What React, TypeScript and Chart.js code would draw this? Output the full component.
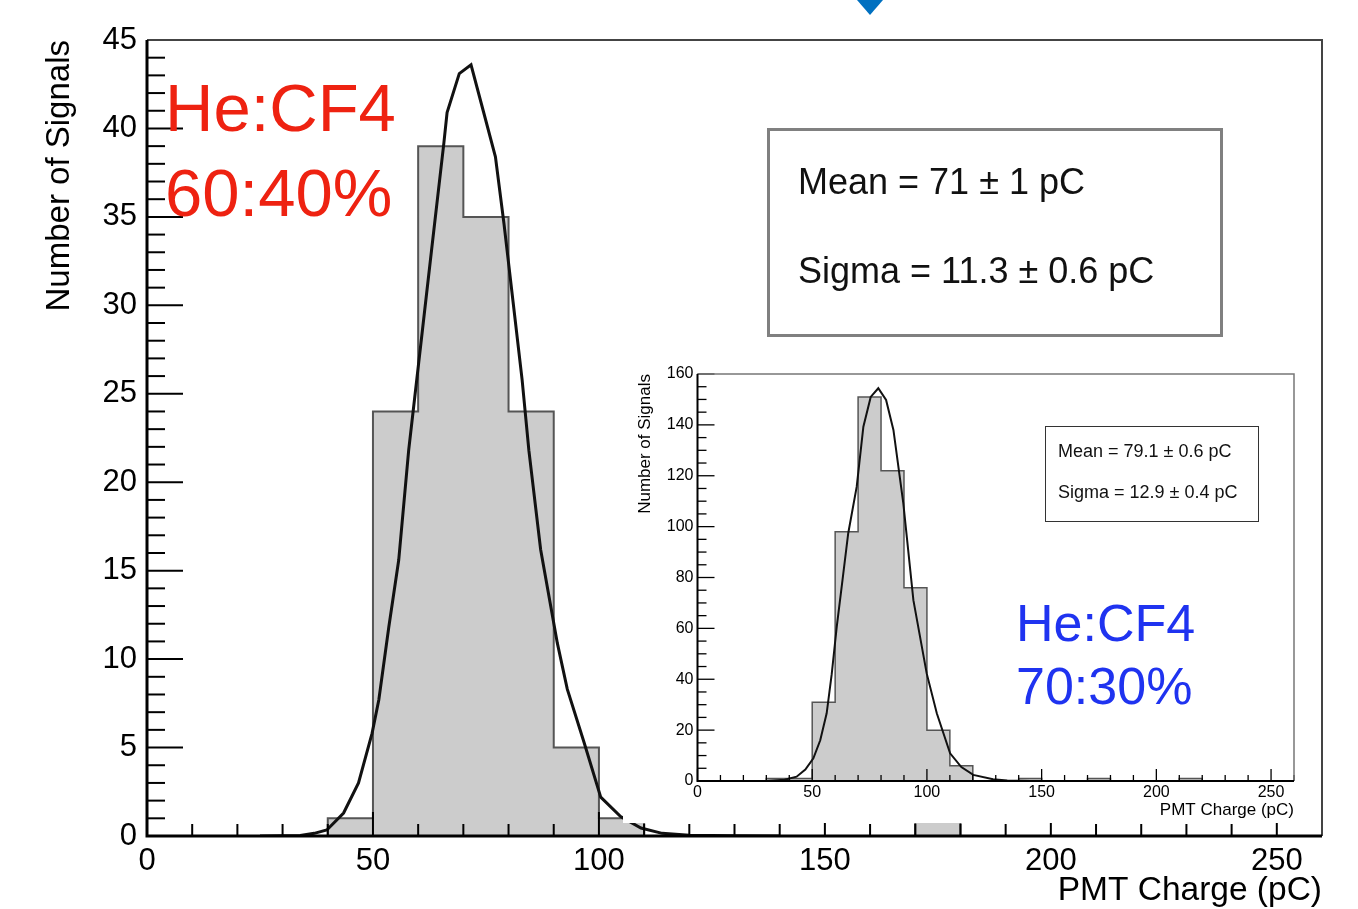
import React, { useEffect, useRef } from "react";
import { Chart, registerables } from "chart.js";
Chart.register(...registerables);

const FONT = "'Liberation Sans', Arial, Helvetica, sans-serif";

// ---- data ----
const binWidth = 10;
// main histogram (He:CF4 60:40%), bins of 10 pC from 0 to 260
const mainCounts = [0, 0, 0, 0, 1, 24, 39, 35, 24, 5, 1, 0, 0, 0, 0, 0, 0, 1, 0, 0, 0, 0, 0, 0, 0, 0];
// inset histogram (He:CF4 70:30%)
const insetCounts = [0, 0, 0, 1, 1, 31, 98, 151, 122, 76, 20, 6, 0, 0, 1, 0, 0, 1, 0, 0, 0, 1, 0, 0, 0, 0];

// fitted curves
const mainFitX = [25, 33.9, 37, 39.8, 43.5, 46.8, 49.8, 51.3, 53.5, 55.7, 57.9, 60.5, 63, 65.7, 66.4, 69.1, 71.7, 74.4, 77.1, 79, 81, 83, 84.5, 87.1, 90.8, 93, 96.7, 100.4, 104.8, 109.3, 114, 120, 130, 140];
const mainFitY = [0, 0.03, 0.15, 0.34, 1.3, 3.0, 5.8, 7.7, 11.8, 15.6, 21.8, 27.6, 33.2, 39.2, 40.9, 43.1, 43.6, 41.0, 38.4, 34.6, 30.2, 25.8, 21.8, 16.2, 10.9, 8.3, 5.3, 2.2, 1.1, 0.45, 0.15, 0.04, 0.01, 0];
const insetFitX = [30, 38, 43.2, 47, 50.5, 53.5, 56.3, 58.5, 60.7, 63.2, 65.7, 69.4, 72.3, 75.5, 78.8, 82.2, 85.4, 89.7, 94.1, 99.9, 104.3, 110.1, 115, 120.2, 128.8, 135, 145];
const insetFitY = [0, 0.5, 1.7, 4.5, 8.9, 16, 26.6, 42, 60.7, 79, 97.4, 115.7, 139.3, 151, 154.4, 149.8, 138, 109.2, 71.1, 42.3, 26.6, 10.9, 5.5, 2.4, 0.7, 0.2, 0];

const mainXTicks = [0, 50, 100, 150, 200, 250];
const mainYTicks = [0, 5, 10, 15, 20, 25, 30, 35, 40, 45];
const insetXTicks = [0, 50, 100, 150, 200, 250];
const insetYTicks = [0, 20, 40, 60, 80, 100, 120, 140, 160];

function histPoints(counts: number[]) {
  const pts = counts.map((c, i) => ({ x: i * binWidth, y: c }));
  pts.push({ x: counts.length * binWidth, y: counts[counts.length - 1] });
  return pts;
}
function fitPoints(xs: number[], ys: number[]) {
  return xs.map((x, i) => ({ x, y: ys[i] }));
}

const rootAxes = {
  id: "rootAxes",
  afterDatasetsDraw(chart: any, _args: any, o: any) {
    const { ctx, chartArea: a, scales } = chart;
    const xs = scales.x;
    const ys = scales.y;
    ctx.save();
    ctx.strokeStyle = "#000";
    ctx.lineWidth = o.tickWidth;
    const n = Math.round((xs.max - xs.min) / o.xMinor);
    for (let i = 0; i <= n; i++) {
      const v = xs.min + i * o.xMinor;
      const major = Math.abs(v / o.xMajor - Math.round(v / o.xMajor)) < 1e-6;
      const len = major ? o.xMajorLen : o.xMinorLen;
      const px = xs.getPixelForValue(v);
      ctx.beginPath();
      ctx.moveTo(px, a.bottom);
      ctx.lineTo(px, a.bottom - len);
      ctx.stroke();
    }
    const m = Math.round((ys.max - ys.min) / o.yMinor);
    for (let i = 0; i <= m; i++) {
      const v = ys.min + i * o.yMinor;
      const major = Math.abs(v / o.yMajor - Math.round(v / o.yMajor)) < 1e-6;
      const len = major ? o.yMajorLen : o.yMinorLen;
      const py = ys.getPixelForValue(v);
      ctx.beginPath();
      ctx.moveTo(a.left, py);
      ctx.lineTo(a.left + len, py);
      ctx.stroke();
    }
    // frame (top/right)
    ctx.strokeStyle = o.frameColor;
    ctx.lineWidth = o.frameWidth;
    ctx.beginPath();
    ctx.moveTo(a.left, a.top);
    ctx.lineTo(a.right, a.top);
    ctx.lineTo(a.right, a.bottom);
    ctx.stroke();
    // axes (left/bottom)
    ctx.strokeStyle = "#000";
    ctx.lineWidth = o.axisWidth;
    ctx.beginPath();
    ctx.moveTo(a.left, a.top);
    ctx.lineTo(a.left, a.bottom);
    ctx.lineTo(a.right, a.bottom);
    ctx.stroke();
    ctx.restore();
  },
};

function makeConfig(p: any) {
  return {
    type: "line",
    data: {
      datasets: [
        {
          data: fitPoints(p.fitX, p.fitY),
          borderColor: "#111",
          borderWidth: p.curveWidth,
          pointRadius: 0,
          tension: 0,
          fill: false,
        },
        {
          data: histPoints(p.counts),
          stepped: true,
          borderColor: "#555",
          borderWidth: p.histWidth,
          backgroundColor: "#cccccc",
          fill: "origin",
          pointRadius: 0,
        },
      ],
    },
    options: {
      responsive: false,
      animation: false,
      devicePixelRatio: 1,
      layout: { padding: p.padding },
      plugins: {
        legend: { display: false },
        tooltip: { enabled: false },
        rootAxes: p.axes,
      },
      scales: {
        x: {
          type: "linear",
          min: 0,
          max: 260,
          afterBuildTicks: (s: any) => {
            s.ticks = p.xTicks.map((v: number) => ({ value: v }));
          },
          afterFit: (s: any) => {
            s.height = p.xHeight;
          },
          grid: { display: false, drawTicks: false },
          border: { display: false },
          ticks: {
            color: "#000",
            font: { family: FONT, size: p.tickSize },
            padding: p.xTickPad,
            maxRotation: 0,
            autoSkip: false,
          },
          title: {
            display: true,
            text: "PMT Charge (pC)",
            align: "end",
            color: "#000",
            font: { family: FONT, size: p.xTitleSize, lineHeight: 1.1 },
            padding: { top: 0, bottom: p.xTitlePad },
          },
        },
        y: {
          type: "linear",
          min: 0,
          max: p.yMax,
          afterBuildTicks: (s: any) => {
            s.ticks = p.yTicks.map((v: number) => ({ value: v }));
          },
          afterFit: (s: any) => {
            s.width = p.yWidth;
          },
          grid: { display: false, drawTicks: false },
          border: { display: false },
          ticks: {
            color: "#000",
            font: { family: FONT, size: p.tickSize },
            padding: p.yTickPad,
            autoSkip: false,
          },
          title: {
            display: true,
            text: "Number of Signals",
            align: "end",
            color: "#000",
            font: { family: FONT, size: p.yTitleSize, lineHeight: 1.2 },
            padding: { top: p.yTitlePad, bottom: 0 },
          },
        },
      },
    },
    plugins: [rootAxes],
  };
}

export default function App() {
  const mainRef = useRef<HTMLCanvasElement>(null);
  const insetRef = useRef<HTMLCanvasElement>(null);

  useEffect(() => {
    document.body.style.margin = "0";
    document.body.style.overflow = "hidden";
    const main = new Chart(
      mainRef.current as any,
      makeConfig({
        counts: mainCounts,
        fitX: mainFitX,
        fitY: mainFitY,
        xTicks: mainXTicks,
        yTicks: mainYTicks,
        yMax: 45,
        padding: { top: 40, right: 36, left: 0, bottom: 0 },
        xHeight: 73,
        yWidth: 147,
        tickSize: 31,
        xTitleSize: 33.5,
        yTitleSize: 33,
        xTickPad: 7,
        yTickPad: 10,
        xTitlePad: 0,
        yTitlePad: 40,
        curveWidth: 3,
        histWidth: 2,
        axes: {
          xMajor: 50, xMinor: 10, xMajorLen: 24, xMinorLen: 12,
          yMajor: 5, yMinor: 1, yMajorLen: 36, yMinorLen: 18,
          tickWidth: 2, axisWidth: 3, frameColor: "#444", frameWidth: 2,
        },
      }) as any
    );
    const inset = new Chart(
      insetRef.current as any,
      makeConfig({
        counts: insetCounts,
        fitX: insetFitX,
        fitY: insetFitY,
        xTicks: insetXTicks,
        yTicks: insetYTicks,
        yMax: 160,
        padding: { top: 19, right: 9, left: 0, bottom: 0 },
        xHeight: 42,
        yWidth: 74.5,
        tickSize: 16,
        xTitleSize: 17,
        yTitleSize: 17,
        xTickPad: 2,
        yTickPad: 4,
        xTitlePad: 3,
        yTitlePad: 12,
        curveWidth: 2,
        histWidth: 1.5,
        axes: {
          xMajor: 50, xMinor: 10, xMajorLen: 12, xMinorLen: 6,
          yMajor: 20, yMinor: 5, yMajorLen: 17, yMinorLen: 9,
          tickWidth: 1.3, axisWidth: 2, frameColor: "#777", frameWidth: 1.5,
        },
      }) as any
    );
    return () => {
      main.destroy();
      inset.destroy();
    };
  }, []);

  const abs = (s: React.CSSProperties): React.CSSProperties => ({ position: "absolute", ...s });

  return (
    <div style={{ position: "absolute", left: 0, top: 0, width: 1358, height: 909, background: "#fff", overflow: "hidden", fontFamily: FONT }}>
      <canvas ref={mainRef} width={1358} height={909} style={abs({ left: 0, top: 0 })} />
      <canvas ref={insetRef} width={680} height={468} style={abs({ left: 623, top: 355, background: "#fff" })} />

      {/* blue marker at the top */}
      <div style={abs({ left: 857, top: 0, width: 0, height: 0, borderLeft: "13px solid transparent", borderRight: "13px solid transparent", borderTop: "15px solid #0070c0" })} />

      {/* red label */}
      <div style={abs({ left: 165, top: 65, fontSize: 67, lineHeight: "85px", color: "#ee2211", whiteSpace: "nowrap" })}>
        He:CF4<br />60:40%
      </div>

      {/* main stats box */}
      <div style={abs({ left: 767, top: 128, width: 456, height: 209, boxSizing: "border-box", border: "3px solid #808080" })} />
      <div style={abs({ left: 798, top: 164, fontSize: 36, lineHeight: "36px", color: "#111", whiteSpace: "nowrap" })}>Mean = 71 ± 1 pC</div>
      <div style={abs({ left: 798, top: 253, fontSize: 36, lineHeight: "36px", color: "#111", whiteSpace: "nowrap" })}>Sigma = 11.3 ± 0.6 pC</div>

      {/* inset stats box */}
      <div style={abs({ left: 1045, top: 426, width: 214, height: 96, boxSizing: "border-box", border: "1.5px solid #333" })} />
      <div style={abs({ left: 1058, top: 442, fontSize: 18, lineHeight: "18px", color: "#111", whiteSpace: "nowrap" })}>Mean = 79.1 ± 0.6 pC</div>
      <div style={abs({ left: 1058, top: 483, fontSize: 18, lineHeight: "18px", color: "#111", whiteSpace: "nowrap" })}>Sigma = 12.9 ± 0.4 pC</div>

      {/* blue label */}
      <div style={abs({ left: 1016, top: 592, fontSize: 52, lineHeight: "63px", color: "#1f33f0", whiteSpace: "nowrap" })}>
        He:CF4<br />70:30%
      </div>
    </div>
  );
}
